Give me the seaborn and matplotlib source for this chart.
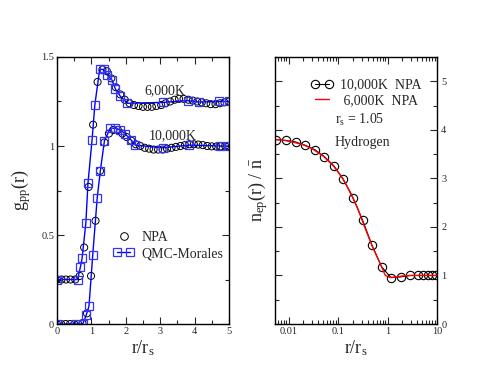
import numpy as np
import matplotlib
matplotlib.use('Agg')
import matplotlib.pyplot as plt
from matplotlib.lines import Line2D
from matplotlib.legend_handler import HandlerLine2D
from matplotlib.ticker import MultipleLocator, FixedLocator, LogLocator, NullFormatter
import seaborn as sns

sns.set_style('ticks')
plt.rcParams['font.family'] = ['Liberation Serif', 'DejaVu Serif']
plt.rcParams['mathtext.fontset'] = 'custom'
plt.rcParams['mathtext.rm'] = 'Liberation Serif'
plt.rcParams['mathtext.it'] = 'Liberation Serif:italic'

# Left panel: g_pp(r), NPA (circles) and QMC-Morales (squares)
x_npa_6k = [0, 0.13, 0.26, 0.39, 0.53, 0.66, 0.79, 0.92, 1.05, 1.18, 1.32, 1.45, 1.58,
            1.71, 1.84, 1.97, 2.11, 2.24, 2.37, 2.5, 2.63, 2.76, 2.89, 3.03, 3.16, 3.29,
            3.42, 3.55, 3.68, 3.82, 3.95, 4.08, 4.21, 4.34, 4.47, 4.61, 4.74, 4.87, 5.0]
g_npa_6k = [0.25, 0.25, 0.25, 0.25, 0.25, 0.27, 0.43, 0.77, 1.12, 1.36, 1.43, 1.42, 1.38,
            1.33, 1.29, 1.26, 1.24, 1.23, 1.225, 1.22, 1.22, 1.22, 1.225, 1.23, 1.24, 1.25,
            1.26, 1.265, 1.265, 1.26, 1.255, 1.25, 1.245, 1.24, 1.235, 1.235, 1.24, 1.245, 1.25]

x_npa_10k = [0, 0.12, 0.25, 0.38, 0.5, 0.62, 0.74, 0.87, 0.99, 1.12, 1.25, 1.38, 1.51,
             1.64, 1.77, 1.9, 2.03, 2.16, 2.29, 2.42, 2.55, 2.68, 2.81, 2.94, 3.07, 3.2,
             3.33, 3.46, 3.59, 3.72, 3.85, 3.98, 4.11, 4.24, 4.37, 4.5, 4.63, 4.76, 4.89, 5.0]
g_npa_10k = [0, 0, 0, 0, 0, 0, 0.005, 0.06, 0.27, 0.58, 0.86, 1.02, 1.07,
             1.09, 1.09, 1.07, 1.05, 1.03, 1.01, 1.0, 0.99, 0.985, 0.98, 0.98, 0.98, 0.985,
             0.99, 0.995, 1.0, 1.005, 1.01, 1.01, 1.008, 1.005, 1.0, 0.998, 0.997, 0.998, 1.0, 1.0]

x_qmc_6k = [0.0, 0.6, 0.68, 0.73, 0.84, 0.9, 1.02, 1.1, 1.24, 1.36, 1.46, 1.6, 1.7,
            1.84, 2.05, 3.08, 3.8, 4.12, 4.72, 5.0]
g_qmc_6k = [0.25, 0.25, 0.32, 0.37, 0.57, 0.79, 1.035, 1.23, 1.43, 1.43, 1.40, 1.37, 1.32,
            1.28, 1.24, 1.245, 1.255, 1.247, 1.25, 1.25]

x_qmc_10k = [0.0, 0.52, 0.75, 0.85, 0.93, 1.04, 1.17, 1.26, 1.38, 1.55, 1.7, 1.84, 1.97,
             2.15, 2.28, 3.08, 3.85, 4.75, 5.0]
g_qmc_10k = [0, 0, 0, 0.05, 0.1, 0.39, 0.71, 0.86, 1.03, 1.10, 1.10, 1.09, 1.07,
             1.035, 1.005, 0.99, 1.005, 1.0, 1.0]

# Right panel: n_ep(r)/n_bar for hydrogen, r_s = 1.05
x_ep_10k = [0.0057, 0.009, 0.0139, 0.0219, 0.034, 0.0525, 0.082, 0.128, 0.199, 0.313,
            0.486, 0.757, 1.17, 1.84, 2.86, 4.04, 5.3, 6.5, 7.9, 9.5]
n_ep_10k = [3.80, 3.78, 3.75, 3.68, 3.59, 3.45, 3.26, 2.98, 2.60, 2.14,
            1.62, 1.18, 0.955, 0.97, 1.0, 1.0, 1.0, 1.0, 1.0, 1.0]

x_ep_6k = [0.0052, 0.008, 0.012, 0.02, 0.03, 0.05, 0.08, 0.12, 0.18, 0.25,
           0.35, 0.5, 0.7, 0.9, 1.1, 1.4, 2, 3, 5, 10]
n_ep_6k = [3.80, 3.785, 3.75, 3.69, 3.61, 3.46, 3.26, 3.02, 2.70, 2.38,
           1.98, 1.58, 1.26, 1.0, 0.96, 0.965, 0.99, 1.0, 1.0, 1.0]

fig = plt.figure(figsize=(4.94, 3.82), dpi=100)
ax1 = fig.add_axes([0.1154, 0.1518, 0.348, 0.699])
ax2 = fig.add_axes([0.5557, 0.1518, 0.329, 0.699])

# left panel
sns.lineplot(x=x_qmc_6k, y=g_qmc_6k, ax=ax1, color='blue', linewidth=1, marker='s',
             markersize=6, markerfacecolor='none', markeredgecolor='#3333ff',
             markeredgewidth=0.9, sort=False, estimator=None)
sns.lineplot(x=x_qmc_10k, y=g_qmc_10k, ax=ax1, color='blue', linewidth=1, marker='s',
             markersize=6, markerfacecolor='none', markeredgecolor='#3333ff',
             markeredgewidth=0.9, sort=False, estimator=None)
sns.scatterplot(x=x_npa_6k, y=g_npa_6k, ax=ax1, marker='o', s=26,
                facecolor='none', edgecolor='black', linewidth=0.7)
sns.scatterplot(x=x_npa_10k, y=g_npa_10k, ax=ax1, marker='o', s=26,
                facecolor='none', edgecolor='black', linewidth=0.7)

ax1.set_xlim(0, 5)
ax1.set_ylim(0, 1.5)
ax1.xaxis.set_major_locator(MultipleLocator(1))
ax1.xaxis.set_minor_locator(MultipleLocator(0.5))
ax1.yaxis.set_major_locator(FixedLocator([0, 0.5, 1, 1.5]))
ax1.yaxis.set_minor_locator(MultipleLocator(0.25))
ax1.set_yticklabels(['0', '0.5', '1', '1.5'])
ax1.set_xlabel(r'$\mathrm{r/r_s}$', fontsize=13, labelpad=2)
ax1.set_ylabel(r'$\mathrm{g_{pp}(r)}$', fontsize=13, labelpad=6)
ax1.text(3.15, 1.31, '6,000K', fontsize=10, ha='center', va='center')
ax1.text(3.37, 1.06, '10,000K', fontsize=10, ha='center', va='center')

h_npa = Line2D([], [], linestyle='none', marker='o', markersize=5.5,
               markerfacecolor='none', markeredgecolor='black', markeredgewidth=0.7)
h_qmc = Line2D([], [], color='blue', linewidth=1, marker='s', markersize=6,
               markerfacecolor='none', markeredgecolor='#3333ff', markeredgewidth=0.9)
ax1.legend([h_npa, h_qmc], ['NPA', 'QMC-Morales'], loc='upper left',
           bbox_to_anchor=(0.29, 0.37), frameon=False, fontsize=10, numpoints=2,
           handler_map={h_npa: HandlerLine2D(numpoints=1)},
           handlelength=1.6, handletextpad=0.5, labelspacing=0.25, borderaxespad=0)

# right panel
sns.lineplot(x=x_ep_10k, y=n_ep_10k, ax=ax2, color='black', linewidth=0.8, marker='o',
             markersize=6, markerfacecolor='none', markeredgecolor='black',
             markeredgewidth=0.8, sort=False, estimator=None)
sns.lineplot(x=x_ep_6k, y=n_ep_6k, ax=ax2, color='red', linewidth=1, sort=False,
             estimator=None)
ax2.set_xscale('log')
ax2.set_xlim(0.0052, 10)
ax2.set_ylim(0, 5.5)
ax2.xaxis.set_major_locator(FixedLocator([0.01, 0.1, 1, 10]))
ax2.xaxis.set_minor_locator(LogLocator(base=10, subs=np.arange(2, 10), numticks=20))
ax2.xaxis.set_minor_formatter(NullFormatter())
ax2.set_xticklabels(['0.01', '0.1', '1', '10'])
ax2.yaxis.set_major_locator(MultipleLocator(1))
ax2.yaxis.set_minor_locator(MultipleLocator(0.5))
ax2.yaxis.tick_right()
ax2.set_xlabel(r'$\mathrm{r/r_s}$', fontsize=13, labelpad=2)
ax2.set_ylabel(r'$\mathrm{n_{ep}(r)\ /\ \bar{n}}$', fontsize=13, labelpad=3)
ax2.yaxis.set_label_position('left')

h_10k = Line2D([], [], color='black', linewidth=0.8, marker='o', markersize=6,
               markerfacecolor='none', markeredgecolor='black', markeredgewidth=0.8)
h_6k = Line2D([], [], color='red', linewidth=1)
ax2.legend([h_10k, h_6k], ['10,000K  NPA', ' 6,000K  NPA'], loc='upper left',
           bbox_to_anchor=(0.19, 0.94), frameon=False, fontsize=10, numpoints=2,
           handlelength=1.6, handletextpad=0.5, labelspacing=0.2, borderaxespad=0)
ax2.text(0.37, 0.764, r'$\mathrm{r_s}$ = 1.05', transform=ax2.transAxes, fontsize=10,
         ha='left', va='center')
ax2.text(0.37, 0.678, 'Hydrogen', transform=ax2.transAxes, fontsize=10,
         ha='left', va='center')

for ax in (ax1, ax2):
    ax.tick_params(which='both', direction='in', top=True, bottom=True, left=True,
                   right=True, labelsize=7.5, pad=2, width=0.8)
    ax.tick_params(which='major', length=5)
    ax.tick_params(which='minor', length=3)
    for sp in ax.spines.values():
        sp.set_linewidth(1.0)
        sp.set_color('black')
ax2.tick_params(axis='y', labelleft=False, labelright=True, pad=3)

fig.savefig('out.png', dpi=100)
